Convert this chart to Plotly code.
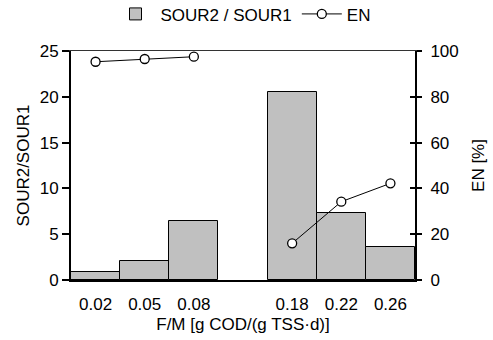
import plotly.graph_objects as go

categories = ["0.02", "0.05", "0.08", " ", "0.18", "0.22", "0.26"]
sour_ratio = [0.9, 2.1, 6.4, None, 20.5, 7.3, 3.6]
en_percent = [95.3, 96.5, 97.5, None, 16.0, 34.2, 42.2]

font = dict(family="Arial, Liberation Sans, sans-serif", size=17, color="#000")

fig = go.Figure()
fig.add_trace(go.Bar(
    x=categories, y=sour_ratio, name="SOUR2 / SOUR1",
    marker=dict(color="#c0c0c0", line=dict(color="#000", width=1)),
))
fig.add_trace(go.Scatter(
    x=categories, y=en_percent, name="EN", yaxis="y2",
    mode="lines+markers", connectgaps=False,
    line=dict(color="#000", width=1),
    marker=dict(symbol="circle", size=9, color="#fff", line=dict(color="#000", width=1.3)),
))

fig.update_layout(
    width=493, height=340,
    margin=dict(l=71, r=78, t=51, b=60, autoexpand=False),
    paper_bgcolor="#fff", plot_bgcolor="#fff",
    font=font,
    bargap=0,
    showlegend=True,
    legend=dict(orientation="h", x=0.5, xanchor="center", y=1.16, yanchor="middle",
                font=font, itemwidth=40, traceorder="normal"),
    xaxis=dict(
        type="category", categoryorder="array", categoryarray=categories,
        showline=True, linecolor="#000", linewidth=1.5,
        ticks="outside", ticklen=8, tickcolor="rgba(0,0,0,0)",
        showgrid=False, zeroline=False, automargin=False,
        title=dict(text="F/M [g COD/(g TSS·d)]", font=font, standoff=5),
        tickfont=font,
    ),
    xaxis2=dict(
        overlaying="x", side="top", showline=True, linecolor="#333", linewidth=1,
        showticklabels=False, ticks="", showgrid=False, zeroline=False,
    ),
    yaxis=dict(
        range=[0, 25], tickvals=[0, 5, 10, 15, 20, 25],
        showline=True, linecolor="#000", linewidth=2,
        ticks="outside", ticklen=7, tickwidth=1.5, tickcolor="#000",
        showgrid=False, zeroline=False, automargin=False,
        title=dict(text="SOUR2/SOUR1", font=font, standoff=6),
        tickfont=font,
    ),
    yaxis2=dict(
        range=[0, 100], tickvals=[0, 20, 40, 60, 80, 100],
        overlaying="y", side="right",
        showline=True, linecolor="#000", linewidth=2,
        ticks="outside", ticklen=5, tickwidth=1.5, tickcolor="#000",
        ticklabelstandoff=5,
        showgrid=False, zeroline=False, automargin=False,
        title=dict(text="EN [%]", font=font, standoff=14),
        tickfont=font,
    ),
    yaxis3=dict(
        range=[0, 100], tickvals=[0, 20, 40, 60, 80, 100],
        overlaying="y", side="right",
        showline=False, showticklabels=False,
        ticks="inside", ticklen=5, tickwidth=1.5, tickcolor="#000",
        showgrid=False, zeroline=False, automargin=False,
    ),
)
# invisible traces to activate helper axes (crossing ticks on right, thin top border)
fig.add_trace(go.Scatter(x=[categories[0]], y=[None], yaxis="y3", showlegend=False, hoverinfo="skip"))
fig.add_trace(go.Scatter(x=[categories[0]], y=[None], xaxis="x2", showlegend=False, hoverinfo="skip"))
fig.update_layout(xaxis2=dict(type="category", categoryorder="array", categoryarray=categories))

fig.write_html("out.html")
